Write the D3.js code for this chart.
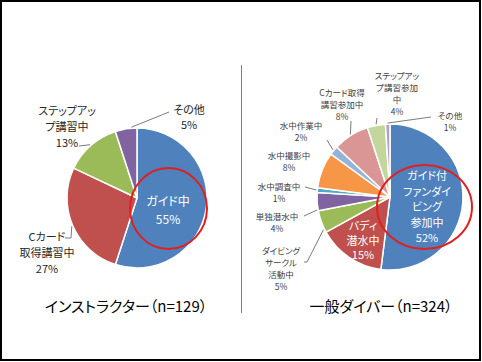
<!DOCTYPE html>
<html>
<head>
<meta charset="utf-8">
<script src="https://cdn.jsdelivr.net/npm/d3@7"></script>
<style>
  body { margin: 0; background: #fff; }
  text { font-family: "Noto Sans CJK JP", "Noto Sans", sans-serif; font-feature-settings: "palt"; }
</style>
</head>
<body>
<svg id="chart" width="482" height="362"></svg>
<script>
// インストラクター (n=129)
var instCategories = ["ガイド中", "Cカード\n取得講習中", "ステップアッ\nプ講習中", "その他"];
var instValues = [55, 27, 13, 5];
var instColors = ["#4F81BD", "#C0504D", "#9BBB59", "#8064A2"];

// 一般ダイバー (n=324)
var diverCategories = ["ガイド付\nファンダイ\nビング\n参加中", "バディ\n潜水中", "ダイビング\nサークル\n活動中",
  "単独潜水中", "水中調査中", "水中撮影中", "水中作業中", "Cカード取得\n講習参加中", "ステップアッ\nプ講習参加\n中", "その他"];
var diverValues = [52, 15, 5, 4, 1, 8, 2, 8, 4, 1];
var diverColors = ["#4F81BD", "#C0504D", "#9BBB59", "#8064A2", "#4BACC6", "#F79646",
  "#95B3D7", "#D99694", "#C3D69B", "#B3A2C7"];

var titles = ["インストラクター（n=129）", "一般ダイバー（n=324）"];

// label placement (not data)
var instLayout = {
  cx: 137, cy: 198, r: 70, titleX: 126,
  ring: {cx: 168.5, cy: 208.5, rx: 38.5, ry: 40.5},
  fs: 11, lh: 16, color: "#262626",
  labels: [
    {x: 168, y: 200.5, white: true, fs: 12, lh: 17.5},
    {x: 47, y: 236, lead: [[65, 238], [71, 238]], at: 0.5},
    {x: 67, y: 110, lead: [[79, 146]], at: 0.5},
    {x: 189, y: 109, lh: 15, lead: [[169, 112]], at: 0.75}
  ]
};
var diverLayout = {
  cx: 390, cy: 197, r: 73, titleX: 381,
  ring: {cx: 424.5, cy: 207, rx: 47.5, ry: 42},
  fs: 8.5, lh: 12, color: "#404040",
  labels: [
    {x: 427, y: 175, white: true, fs: 11, lh: 15.5},
    {x: 363, y: 225, white: true, fs: 11, lh: 14.5},
    {x: 281, y: 249.5, lead: [[304, 262], [307, 262]], at: 0.15},
    {x: 277, y: 215.5, lead: [[304, 216]], at: 0.05},
    {x: 279, y: 185.5, lead: [[305, 187]], at: 0.5},
    {x: 289, y: 155},
    {x: 301, y: 124.5, lead: [[327, 140]], at: 0.5},
    {x: 342, y: 91.5, lead: [[351, 121]], at: 0.5},
    {x: 397, y: 75, lead: [[377, 118]], at: 0.5},
    {x: 450, y: 115, lead: [[431, 117]], at: 0.5}
  ]
};

var svg = d3.select("#chart");

// outer frame
svg.append("rect")
  .attr("x", 1).attr("y", 1).attr("width", 479).attr("height", 359)
  .attr("fill", "none").attr("stroke", "#000").attr("stroke-width", 2);

// divider
svg.append("line")
  .attr("x1", 241.5).attr("x2", 241.5).attr("y1", 65).attr("y2", 313)
  .attr("stroke", "#7f7f7f").attr("stroke-width", 1);

function drawPie(categories, values, colors, layout, title) {
  var pie = d3.pie().sort(null).value(function(d) { return d; });
  var arcs = pie(values);
  var arc = d3.arc().innerRadius(0).outerRadius(layout.r);
  var g = svg.append("g");
  var pg = g.append("g").attr("transform", "translate(" + layout.cx + "," + layout.cy + ")");

  pg.selectAll("path").data(arcs).enter().append("path")
    .attr("d", arc)
    .attr("fill", function(d, i) { return colors[i]; })
    .attr("stroke", "#fff")
    .attr("stroke-width", 1.5)
    .attr("stroke-linejoin", "round");

  var arcPoint = function(d, at, rr) {
    var a = d.startAngle + (d.endAngle - d.startAngle) * at;
    return [layout.cx + rr * Math.sin(a), layout.cy - rr * Math.cos(a)];
  };

  // leader lines
  layout.labels.forEach(function(lab, i) {
    if (!lab.lead) return;
    var pts = lab.lead.concat([arcPoint(arcs[i], lab.at, layout.r + 1)]);
    g.append("polyline")
      .attr("points", pts.map(function(p) { return p.join(","); }).join(" "))
      .attr("fill", "none")
      .attr("stroke", "#595959")
      .attr("stroke-width", 0.8);
  });

  // labels
  layout.labels.forEach(function(lab, i) {
    var lines = categories[i].split("\n").concat([values[i] + "%"]);
    var fs = lab.fs || layout.fs;
    var lh = lab.lh || layout.lh;
    var t = g.append("text")
      .attr("text-anchor", "middle")
      .attr("font-size", fs)
      .attr("fill", lab.white ? "#fff" : layout.color);
    lines.forEach(function(s, k) {
      t.append("tspan")
        .attr("x", lab.x)
        .attr("y", lab.y + k * lh)
        .attr("dominant-baseline", "central")
        .text(s);
    });
  });

  // highlight ring
  g.append("ellipse")
    .attr("cx", layout.ring.cx).attr("cy", layout.ring.cy)
    .attr("rx", layout.ring.rx).attr("ry", layout.ring.ry)
    .attr("fill", "none").attr("stroke", "#E0201F").attr("stroke-width", 2);

  // title
  g.append("text")
    .attr("x", layout.titleX).attr("y", 305)
    .attr("text-anchor", "middle")
    .attr("dominant-baseline", "central")
    .attr("font-size", 15)
    .attr("fill", "#000")
    .text(title);
}

drawPie(instCategories, instValues, instColors, instLayout, titles[0]);
drawPie(diverCategories, diverValues, diverColors, diverLayout, titles[1]);
</script>
</body>
</html>
